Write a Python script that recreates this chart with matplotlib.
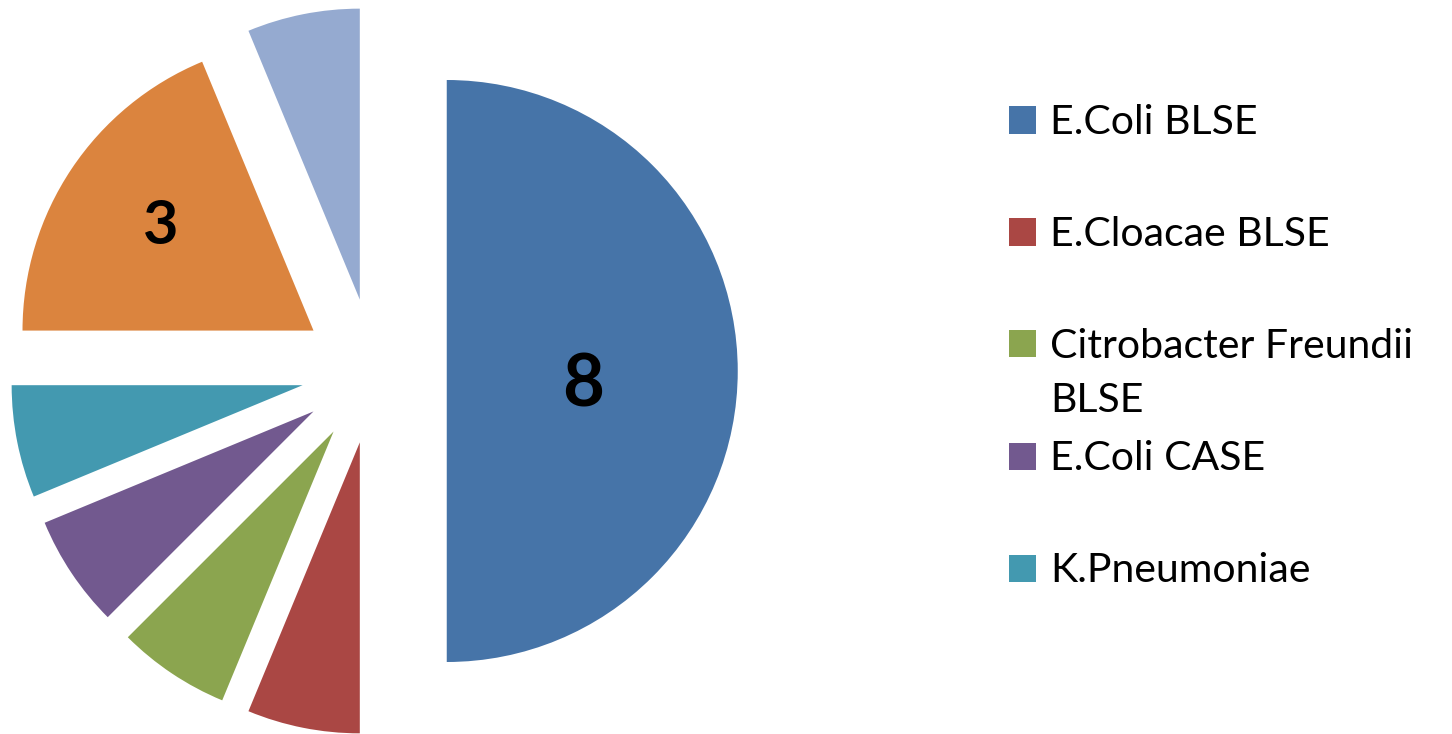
import numpy as np
import matplotlib
matplotlib.use('Agg')
import matplotlib.pyplot as plt
from matplotlib.patches import Rectangle

# data
categories = ['E.Coli BLSE', 'E.Cloacae BLSE', 'Citrobacter Freundii\nBLSE',
              'E.Coli CASE', 'K.Pneumoniae', 'Other 1', 'Other 2']
values = [8, 1, 1, 1, 1, 3, 1]
colors = ['#4674A8', '#AA4744', '#8BA54F', '#72598F', '#4399B0', '#DB843E', '#95AAD0']
shown_labels = ['8', '', '', '', '', '3', '']
legend_count = 5  # legend in the source is cut after 5 entries

plt.rcParams['font.family'] = ['Lato', 'DejaVu Sans']

W, H = 1452, 734
fig = plt.figure(figsize=(W / 100, H / 100), dpi=100)
ax = fig.add_axes([0, 0, 1, 1])

R = 291.0          # pie radius in pixels
cx, cy = 374, 363  # pie centre in pixels (from bottom-left)

wedges, _ = ax.pie(values, colors=colors, startangle=90, counterclock=False,
                   explode=[0.25] * len(values), radius=1,
                   wedgeprops=dict(linewidth=0))
ax.set_xlim(-cx / R, (W - cx) / R)
ax.set_ylim(-cy / R, (H - cy) / R)
ax.axis('off')

# value labels inside the slices
label_dist = {0: 0.47, 5: 0.63}
label_dy = {0: -0.05, 5: 0.01}
label_size = {0: 52, 5: 44}
for i, w in enumerate(wedges):
    if not shown_labels[i]:
        continue
    mid = np.deg2rad((w.theta1 + w.theta2) / 2)
    x0, y0 = w.center
    d = label_dist[i]
    ax.text(x0 + d * np.cos(mid), y0 + d * np.sin(mid) + label_dy[i], shown_labels[i],
            ha='center', va='center', fontsize=label_size[i], fontweight='bold')

# legend drawn by hand, first line aligned with the square
sq = 27
for i in range(legend_count):
    yc = 120 + 112 * i
    fig.patches.append(Rectangle(((1009) / W, (H - yc - sq / 2) / H), sq / W, sq / H,
                                 transform=fig.transFigure, color=colors[i], lw=0))
    fig.text(1050 / W, (H - yc + 16) / H, categories[i], ha='left', va='top',
             fontsize=29.5, linespacing=1.55)

fig.savefig('out.png', dpi=100)
